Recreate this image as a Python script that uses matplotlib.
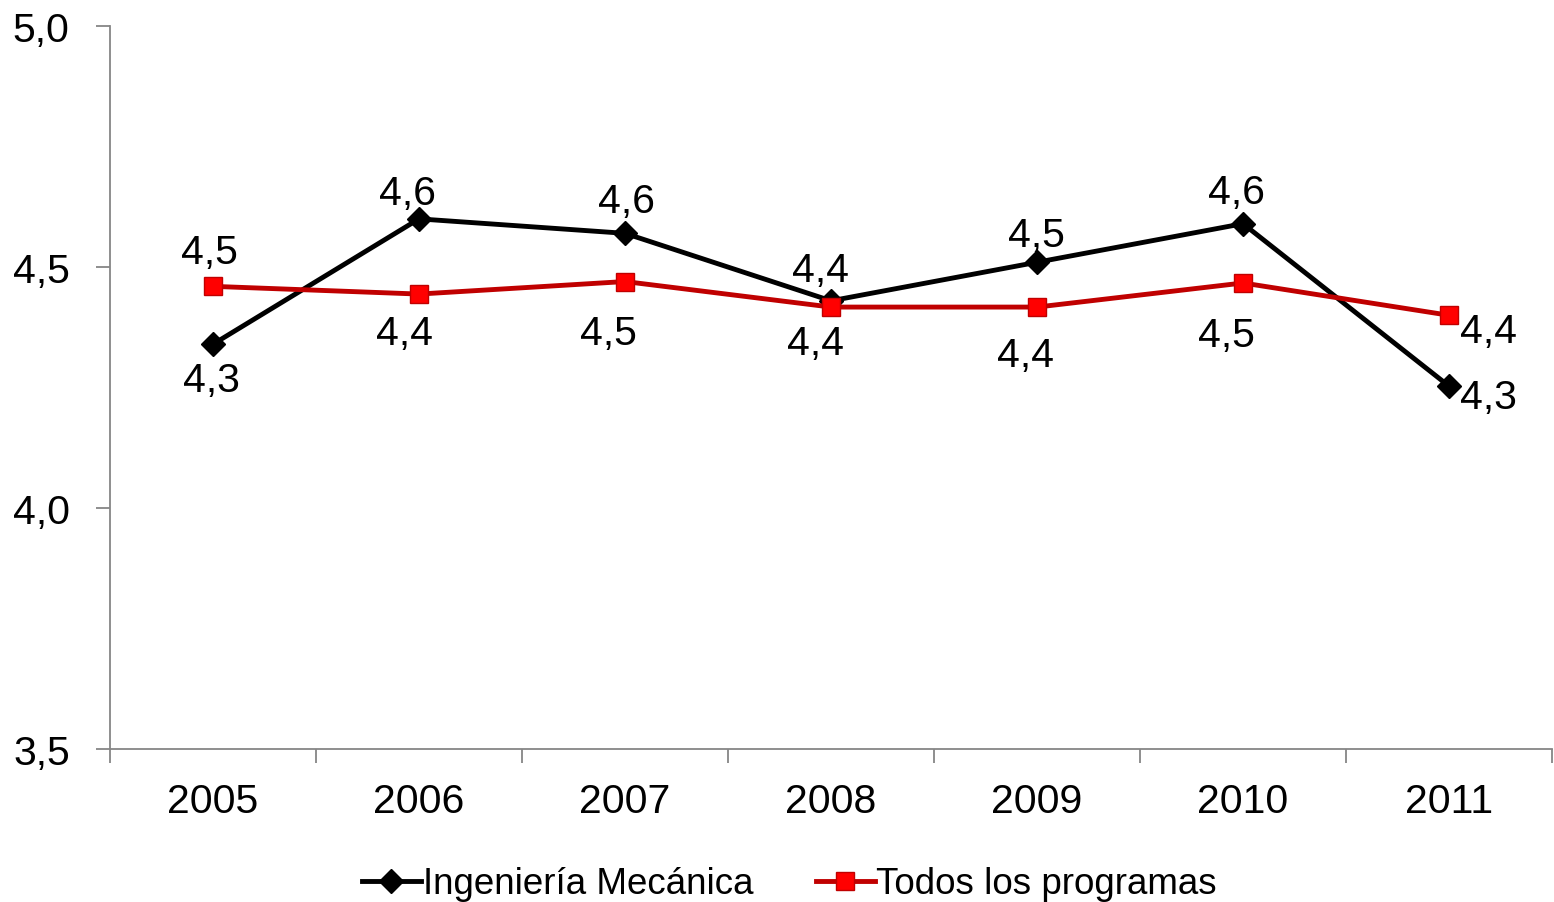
import matplotlib.pyplot as plt

plt.rcParams['font.family'] = ['Liberation Sans', 'DejaVu Sans']

years = ['2005', '2006', '2007', '2008', '2009', '2010', '2011']
mecanica = [4.34, 4.60, 4.57, 4.43, 4.51, 4.59, 4.253]
todos = [4.46, 4.444, 4.47, 4.417, 4.417, 4.467, 4.40]
series_names = ['Ingeniería Mecánica', 'Todos los programas']
yticks = [3.5, 4.0, 4.5, 5.0]

# label placement (pixels from marker to digit centre, y up)
mec_lab = [(-2, -32), (-12, 30), (1, 36), (-11, 34), (-1, 31), (-7, 35), (39, -7)]
tod_lab = [(-4, 38), (-15, -35), (-17, -48), (-16, -32), (-11, -44), (-17, -48), (40, -12)]

FS = 29.5
PX = 72 / 100  # points per pixel
DIGIT_HALF = 0.716 * FS / 2  # half digit height in points


def fmt(v):
    return f"{v:.1f}".replace('.', ',')


fig = plt.figure(figsize=(15.54, 9.03), dpi=100)
ax = fig.add_axes([0.0708, 0.1694, 0.9279, 0.8006])

x = list(range(len(years)))
ax.plot(x, mecanica, color='black', lw=3.5, marker='D', ms=12,
        mfc='black', mec='black', label=series_names[0], zorder=3)
ax.plot(x, todos, color='#C00000', lw=3.5, marker='s', ms=13.5,
        mfc='#FF0000', mec='#C00000', mew=1, label=series_names[1], zorder=3)

for vals, labs in [(mecanica, mec_lab), (todos, tod_lab)]:
    for xi, v, (dx, dy) in zip(x, vals, labs):
        ax.annotate(fmt(v), (xi, v), xytext=(dx * PX, dy * PX - DIGIT_HALF),
                    textcoords='offset points', ha='center', va='baseline',
                    fontsize=FS)

ax.set_xlim(-0.5, len(years) - 0.5)
ax.set_ylim(3.5, 5.0)
ax.set_yticks(yticks)
ax.set_yticklabels([fmt(t) for t in yticks], fontsize=FS)
ax.set_xticks(x)
ax.set_xticklabels(years, fontsize=FS)
ax.set_xticks([i - 0.5 for i in range(len(years) + 1)], minor=True)

ax.tick_params(axis='x', which='major', length=0, pad=24)
ax.tick_params(axis='x', which='minor', length=10, color='#868686', width=1.3)
ax.tick_params(axis='y', length=10, color='#868686', width=1.3, pad=19)

for s in ['top', 'right']:
    ax.spines[s].set_visible(False)
for s in ['left', 'bottom']:
    ax.spines[s].set_color('#868686')
    ax.spines[s].set_linewidth(1.3)

fig.legend(loc='center', bbox_to_anchor=(0.508, 0.02), ncol=2, frameon=False,
           fontsize=26.5, handlelength=1.6, handletextpad=0.05, columnspacing=1.7)

fig.savefig('out.png', dpi=100)
